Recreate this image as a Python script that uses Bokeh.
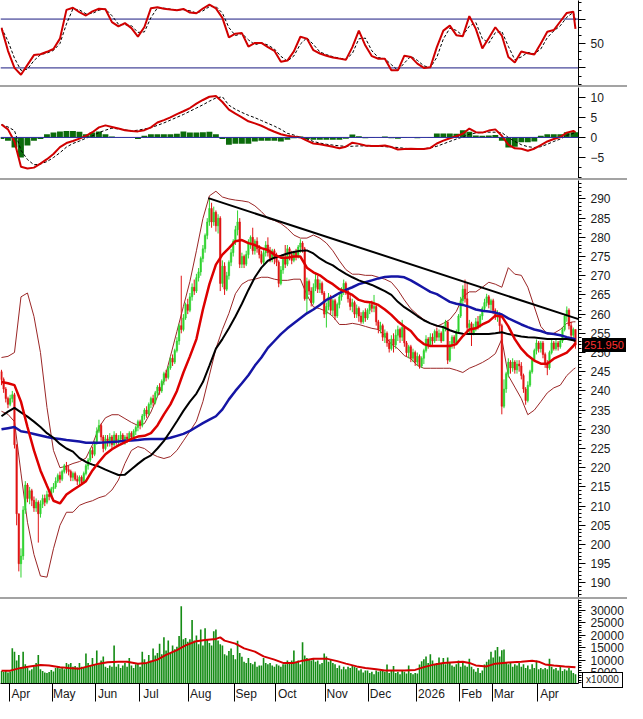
from bokeh.plotting import figure
from bokeh.models import Range1d, FixedTicker, Span, ColumnDataSource, Spacer, Div
from bokeh.layouts import column
from bokeh.embed import file_html
from bokeh.resources import INLINE

# ---------------- data ----------------
first_open = 245.0
close = [
    243.0, 240.5, 238.0, 236.5, 238.0, 239.0, 226.0, 208.0, 195.0, 197.0,
    209.0, 215.5, 212.0, 214.0, 211.5, 209.5, 211.0, 208.0, 210.5, 212.0,
    211.0, 213.0, 212.5, 214.5, 215.0, 216.5, 218.0, 217.0, 219.0, 220.5,
    219.5, 219.0, 217.5, 218.5, 217.0, 216.5, 217.5, 216.0, 218.5, 220.5,
    222.0, 224.5, 223.5, 226.5, 229.5, 231.0, 228.0, 225.0, 227.5, 226.5,
    228.0, 226.0, 228.5, 227.0, 227.5, 228.5, 227.0, 228.0, 227.5, 229.0,
    228.0, 229.5, 230.5, 232.0, 231.0, 233.5, 235.0, 234.0, 236.5, 238.0,
    237.0, 239.5, 241.0, 240.0, 242.5, 244.5, 243.5, 246.0, 248.5, 247.5,
    250.5, 253.0, 257.0, 256.0, 259.0, 262.5, 261.0, 264.5, 267.0, 266.0,
    269.5, 271.0, 274.5, 277.0, 280.5, 284.0, 287.5, 284.0, 286.5, 283.0,
    285.0, 268.0, 272.5, 266.5, 270.0, 273.5, 276.0, 279.0, 282.0, 284.0,
    273.0, 275.0, 273.0, 275.5, 278.5, 280.0, 276.5, 279.0, 277.0, 275.5,
    273.5, 276.0, 278.0, 276.0, 274.5, 276.5, 275.0, 273.5, 268.0, 271.5,
    274.5, 273.0, 277.0, 275.5, 274.0, 276.0, 275.0, 277.5, 278.5, 277.0,
    264.0, 268.5, 266.0, 263.0, 267.0, 269.0, 266.5, 268.0, 265.5, 260.0,
    262.0, 264.5, 261.0, 263.5, 259.5, 262.5, 264.5, 266.5, 268.0, 266.0,
    264.0, 262.0, 263.0, 260.0, 261.5, 259.5, 258.0, 260.5, 259.0, 261.0,
    262.5, 261.5, 262.0, 258.0, 256.0, 257.0, 254.0, 255.0, 252.5, 251.0,
    253.5, 252.0, 254.5, 256.0, 254.0, 256.5, 252.5, 250.0, 251.5, 248.5,
    250.0, 247.5, 249.0, 246.5, 248.5, 250.5, 253.5, 252.0, 254.0, 253.0,
    255.5, 254.0, 255.0, 253.0, 256.5, 258.0, 248.0, 252.0, 254.0, 252.5,
    255.5, 259.5, 263.5, 266.5, 264.0, 256.5, 257.5, 255.0, 256.5, 258.0,
    257.0, 259.5, 261.5, 263.0, 264.5, 262.5, 263.5, 261.0, 259.5, 260.0,
    257.0, 236.0, 240.5, 244.5, 247.5, 246.0, 247.5, 245.5, 247.0, 246.5,
    244.0, 240.5, 237.5, 241.5, 245.0, 248.0, 250.5, 252.5, 251.0, 252.5,
    249.5, 247.0, 246.0, 250.0, 252.5, 251.0, 252.5, 251.5, 253.0, 256.0,
    259.5, 261.0, 257.0, 254.5, 256.0, 251.95,
]
high = [
    245.5, 243.5, 241.0, 238.5, 239.0, 240.0, 239.5, 226.0, 208.0, 199.0,
    210.0, 216.5, 216.0, 215.0, 214.5, 212.5, 212.0, 211.5, 211.5, 213.0,
    213.0, 214.0, 214.0, 215.0, 216.0, 217.5, 218.5, 219.0, 219.5, 221.0,
    221.5, 220.5, 219.5, 219.0, 219.0, 218.0, 218.0, 218.0, 219.0, 221.0,
    222.5, 225.0, 225.5, 227.0, 230.5, 232.5, 231.5, 228.5, 228.5, 228.5,
    229.0, 228.5, 229.5, 229.0, 228.5, 229.5, 229.0, 228.5, 229.0, 229.5,
    229.5, 230.0, 231.0, 232.5, 232.5, 234.0, 235.5, 236.0, 237.0, 238.5,
    239.0, 240.0, 241.5, 242.0, 243.0, 245.0, 245.5, 246.5, 249.0, 249.5,
    251.0, 254.0, 257.5, 270.0, 260.0, 263.0, 264.0, 265.5, 268.0, 269.0,
    270.5, 272.0, 275.0, 278.0, 281.0, 285.0, 290.0, 289.0, 288.0, 287.0,
    286.0, 285.5, 274.0, 273.5, 271.0, 274.0, 277.0, 279.5, 283.0, 287.0,
    285.0, 276.0, 275.5, 276.5, 279.5, 280.5, 282.5, 279.5, 280.0, 278.0,
    276.5, 277.0, 279.0, 280.0, 277.5, 277.0, 277.0, 276.0, 274.0, 272.5,
    275.5, 278.0, 278.0, 277.5, 276.5, 276.5, 277.0, 278.0, 279.5, 279.0,
    277.5, 269.5, 269.0, 267.0, 268.0, 270.5, 270.0, 269.0, 268.5, 266.0,
    263.0, 265.5, 265.0, 264.0, 264.0, 263.0, 265.5, 267.0, 269.0, 268.5,
    266.5, 265.0, 264.0, 263.5, 262.5, 262.0, 260.5, 261.0, 261.5, 261.5,
    263.0, 263.5, 265.0, 262.5, 258.5, 258.0, 257.5, 256.0, 255.5, 253.5,
    254.5, 255.0, 256.0, 257.0, 256.5, 258.5, 257.0, 253.0, 252.0, 252.0,
    251.0, 250.5, 250.0, 249.5, 249.0, 251.0, 254.5, 254.0, 255.0, 255.0,
    256.0, 256.5, 256.0, 255.5, 257.0, 258.5, 258.0, 253.0, 254.5, 254.5,
    256.0, 260.0, 264.5, 267.5, 269.0, 268.0, 258.5, 258.0, 257.5, 259.0,
    259.5, 260.0, 262.0, 264.0, 265.3, 265.0, 264.0, 264.0, 261.5, 261.0,
    260.5, 257.5, 243.0, 245.0, 248.5, 248.0, 248.5, 248.0, 248.0, 248.0,
    247.5, 244.5, 241.0, 242.5, 245.5, 248.5, 251.0, 253.4, 253.0, 253.0,
    253.0, 250.0, 248.0, 250.5, 253.4, 253.0, 253.5, 253.0, 253.5, 256.5,
    260.0, 262.0, 261.5, 258.0, 256.5, 256.0,
]
low = [
    241.5, 239.5, 237.0, 235.5, 236.0, 237.0, 225.0, 205.0, 193.0, 191.4,
    196.0, 208.0, 211.0, 210.5, 210.0, 208.5, 208.5, 200.5, 207.0, 209.5,
    210.0, 210.5, 211.5, 212.0, 213.5, 214.5, 216.0, 216.0, 216.5, 218.5,
    218.5, 218.0, 216.5, 216.5, 216.5, 215.5, 215.5, 215.5, 216.0, 218.0,
    219.5, 221.5, 222.5, 223.0, 226.0, 229.0, 227.0, 224.0, 224.5, 225.5,
    225.5, 225.0, 225.5, 226.0, 226.0, 227.0, 226.5, 226.0, 226.5, 227.0,
    227.0, 227.5, 228.5, 229.5, 230.0, 230.5, 232.5, 233.0, 233.5, 235.5,
    236.0, 236.5, 238.5, 239.0, 239.5, 241.5, 242.5, 243.0, 245.5, 246.5,
    247.0, 250.0, 252.0, 255.0, 255.5, 258.5, 260.0, 260.5, 263.5, 265.0,
    265.5, 268.5, 270.0, 273.5, 276.0, 279.5, 283.0, 282.5, 283.0, 281.5,
    281.0, 266.0, 267.0, 265.0, 266.0, 269.0, 272.5, 275.0, 278.0, 280.5,
    272.0, 272.0, 272.0, 272.5, 274.5, 277.0, 275.5, 275.5, 276.0, 274.5,
    273.0, 273.0, 275.0, 275.0, 273.5, 273.5, 273.0, 272.5, 267.0, 267.5,
    270.5, 272.0, 272.5, 274.0, 273.0, 273.5, 274.0, 274.5, 276.0, 276.0,
    263.5, 260.0, 265.0, 262.0, 262.5, 266.0, 265.5, 265.5, 265.0, 259.0,
    256.5, 261.0, 260.0, 259.5, 258.5, 259.0, 261.5, 263.5, 265.0, 265.0,
    263.0, 261.0, 260.5, 259.0, 259.0, 258.0, 257.5, 257.5, 258.0, 258.5,
    260.0, 260.5, 260.5, 257.0, 255.0, 255.0, 253.0, 252.5, 251.5, 250.0,
    250.5, 250.0, 251.0, 253.0, 252.5, 253.0, 251.5, 249.0, 248.5, 247.5,
    247.5, 246.5, 246.5, 245.8, 246.0, 247.0, 250.0, 251.0, 251.5, 252.0,
    252.5, 253.0, 253.0, 252.5, 253.0, 255.5, 247.0, 247.5, 251.0, 251.0,
    252.0, 255.0, 259.0, 262.5, 263.0, 255.5, 255.0, 251.7, 254.5, 255.5,
    256.0, 256.5, 258.5, 260.5, 262.0, 261.5, 261.0, 260.0, 258.5, 258.0,
    255.0, 233.9, 235.5, 239.5, 243.5, 244.5, 245.0, 244.5, 244.5, 245.0,
    243.0, 239.5, 236.4, 237.0, 241.0, 244.5, 247.5, 249.5, 250.0, 250.0,
    248.5, 246.0, 244.1, 245.5, 249.5, 250.5, 250.5, 250.5, 251.0, 252.5,
    255.5, 258.0, 256.0, 253.5, 253.0, 251.0,
]
volume = [
    5800, 5400, 6000, 5200, 5600, 14900, 13500, 10000, 12200, 7300,
    13500, 8500, 7000, 6000, 6500, 7500, 9000, 12200, 6500, 5800,
    5200, 5000, 5400, 6200, 5600, 7000, 7500, 6800, 7200, 6500,
    9000, 8500, 9000, 7500, 7800, 7200, 9000, 7500, 7000, 12800,
    9000, 8000, 11000, 8500, 14000, 8500, 10000, 11600, 7500, 7000,
    8000, 7500, 16000, 7500, 8500, 7000, 8000, 9000, 7500, 11000,
    8000, 7000, 8500, 9000, 7500, 13500, 10500, 9000, 12200, 10000,
    14800, 12000, 13000, 16700, 12500, 19300, 14000, 18000, 13000, 16000,
    14500, 15500, 19800, 31700, 18500, 19000, 17500, 18500, 26200, 18000,
    20000, 16500, 22400, 16000, 22900, 18500, 17000, 16000, 21700, 22400,
    18000, 16500, 16000, 12500, 12000, 13800, 14800, 12200, 10500, 17900,
    13000, 11500, 9500, 9000, 11000, 9000, 8500, 9500, 7500, 8000,
    8000, 11000, 9000, 8500, 9000, 8000, 7500, 8500, 8000, 7500,
    8500, 8500, 10000, 9000, 10000, 14000, 9500, 10000, 8500, 17300,
    12000, 11000, 10500, 10000, 11000, 9500, 10000, 8500, 9000, 12800,
    11600, 9500, 10500, 9000, 8500, 7000, 8000, 6500, 7500, 6500,
    7500, 7000, 8000, 7500, 7000, 6000, 6500, 5200, 6000, 6000,
    5000, 5500, 4500, 6000, 5500, 5800, 6000, 5500, 8400, 5000,
    6000, 7800, 5000, 5500, 4500, 6000, 5500, 4800, 8000, 5000,
    4500, 5000, 4800, 8400, 9700, 10500, 11600, 9000, 12500, 10000,
    8500, 9000, 11200, 9000, 11000, 8500, 11200, 9000, 8000, 7500,
    8500, 10000, 7500, 9700, 8000, 7500, 10700, 7500, 6500, 5500,
    7000, 5000, 6000, 8400, 9500, 10400, 13500, 11200, 14100, 15400,
    11600, 14100, 14400, 9000, 8500, 9000, 7500, 8500, 8000, 9000,
    7500, 8500, 7000, 8000, 6500, 8500, 7000, 10000, 6500, 7000,
    6500, 7000, 6500, 10700, 7500, 6500, 7000, 6000, 7500, 5800,
    6500, 6000, 7000, 6000, 5000, 4500,
]
vol_ma_days = [0, 4, 9, 13, 18, 22, 27, 31, 36, 40, 45, 49, 54, 58, 63, 67, 72, 76, 81, 85,
               90, 94, 99, 101, 103, 108, 112, 117, 121, 126, 130, 135, 139, 144, 150, 155, 159, 164, 168, 173,
               177, 182, 186, 191, 195, 200, 204, 209, 213, 216, 219, 224, 228, 234, 240, 245, 248, 251, 255, 260, 265]
vol_ma = [5900, 5900, 7000, 7600, 8200, 8000, 7300, 7000, 6700, 7600, 8700, 9300, 9500, 9500, 8700, 9000, 10300, 12200, 14100, 16000,
          17700, 18200, 18600, 19200, 17900, 16700, 14800, 13500, 11600, 10300, 9000, 9000, 9900, 10700, 10700, 9700, 8700, 7600, 7000, 6500,
          6000, 6000, 6000, 6200, 7300, 8400, 9000, 9300, 9500, 9000, 8000, 7600, 8700, 9200, 9500, 9900, 9500, 8400, 8000, 7600, 7300]

# indicator lines, sampled every 3 sessions (last one = final session)
line_days = list(range(0, 265, 3)) + [265]
ma20 = [
    242.3, 242.0, 241.5, 237.2, 230.6, 224.5, 219.3, 215.3, 211.4, 210.7,
    213.0, 214.2, 215.3, 216.5, 219.3, 221.5, 223.5, 224.8, 225.8, 226.6,
    227.5, 228.1, 228.3, 229.0, 231.0, 233.9, 236.5, 240.0, 244.8, 249.0,
    253.5, 261.2, 267.8, 272.9, 275.5, 277.2, 279.0, 279.3, 278.5, 278.0,
    277.2, 276.7, 275.5, 274.7, 274.7, 275.0, 275.0, 272.1, 270.9, 270.1,
    268.8, 267.8, 266.5, 265.8, 265.0, 263.7, 263.2, 263.0, 262.4, 261.2,
    259.8, 258.1, 256.8, 255.6, 253.5, 252.2, 251.7, 251.7, 251.7, 251.7,
    252.2, 254.3, 256.0, 256.3, 257.3, 258.1, 259.6, 259.4, 256.8, 253.5,
    251.0, 249.2, 247.9, 247.1, 247.1, 248.4, 249.2, 250.0, 251.7, 252.5,
]
ma50 = [
    233.4, 234.6, 235.6, 234.4, 233.3, 232.0, 230.6, 229.0, 227.8, 226.2,
    225.0, 224.2, 222.5, 221.5, 220.8, 220.3, 219.5, 218.8, 218.1, 218.2,
    219.6, 221.0, 222.3, 223.2, 225.0, 227.0, 229.5, 232.1, 234.8, 237.2,
    239.3, 242.3, 246.6, 251.0, 253.5, 256.3, 259.4, 262.7, 266.3, 269.6,
    272.1, 273.9, 274.7, 275.2, 275.8, 276.2, 276.5, 276.6, 275.8, 274.5,
    273.5, 272.7, 271.5, 270.5, 269.6, 268.8, 268.2, 267.6, 266.8, 266.0,
    265.0, 263.2, 261.8, 260.7, 259.5, 258.4, 257.6, 257.0, 256.6, 255.8,
    255.2, 254.9, 254.8, 254.8, 254.8, 254.8, 255.0, 255.3, 254.8, 254.5,
    254.2, 254.0, 253.9, 253.7, 253.5, 253.5, 253.5, 253.5, 253.2, 253.0,
]
ma100 = [
    230.0, 230.3, 230.6, 229.5, 229.2, 228.8, 228.4, 228.0, 227.7, 227.5,
    227.2, 227.0, 226.8, 226.5, 226.5, 226.5, 226.6, 226.7, 226.8, 227.0,
    227.1, 227.2, 227.4, 227.5, 227.5, 227.5, 227.8, 228.3, 228.8, 229.6,
    230.6, 231.6, 232.5, 233.4, 235.2, 237.8, 240.0, 242.0, 244.1, 246.6,
    248.7, 251.2, 253.0, 254.8, 256.3, 257.6, 258.9, 260.2, 261.2, 262.4,
    263.7, 264.5, 265.5, 266.3, 267.0, 267.8, 268.3, 268.8, 269.3, 269.7,
    269.8, 269.8, 269.6, 268.8, 267.8, 266.8, 265.8, 265.2, 264.2, 263.2,
    262.7, 262.4, 261.9, 261.2, 260.9, 260.7, 260.4, 259.9, 258.9, 258.1,
    257.3, 256.6, 256.0, 255.6, 255.0, 254.8, 254.5, 254.0, 253.6, 253.4,
]
bb_up = [
    248.7, 249.0, 250.0, 264.5, 265.5, 259.4, 250.0, 235.7, 224.5, 220.0,
    220.4, 221.1, 221.6, 222.5, 226.0, 230.5, 233.0, 233.8, 233.8, 232.8,
    231.8, 231.0, 231.5, 234.5, 238.5, 242.5, 249.0, 255.5, 262.0, 268.5,
    276.5, 284.9, 290.8, 292.0, 290.5, 290.0, 289.7, 289.5, 289.2, 288.2,
    286.7, 284.9, 284.4, 283.6, 282.3, 280.6, 279.8, 279.8, 280.6, 279.8,
    278.5, 276.5, 273.9, 271.6, 270.4, 270.4, 270.1, 270.1, 269.6, 269.1,
    268.3, 266.3, 263.7, 261.4, 259.9, 258.6, 257.6, 256.8, 257.6, 258.6,
    260.7, 264.5, 265.8, 265.8, 267.0, 268.3, 267.8, 267.0, 272.1, 270.4,
    270.1, 267.0, 261.9, 256.8, 254.8, 255.0, 256.0, 257.6, 258.0, 258.0,
]
bb_lo = [
    234.7, 233.9, 232.0, 218.6, 205.8, 197.4, 191.8, 191.5, 198.9, 205.0,
    208.4, 208.4, 210.2, 210.9, 211.4, 212.2, 212.7, 214.2, 216.8, 221.1,
    224.5, 225.5, 225.0, 223.7, 222.9, 222.4, 222.9, 224.5, 227.0, 229.5,
    232.1, 237.2, 244.1, 251.0, 256.0, 260.2, 265.3, 267.8, 268.8, 269.1,
    269.6, 269.6, 269.1, 268.8, 268.8, 269.1, 269.1, 265.0, 261.9, 261.4,
    260.7, 259.4, 257.3, 257.3, 257.6, 257.3, 256.8, 256.3, 256.0, 254.3,
    252.2, 251.0, 249.2, 248.4, 246.6, 245.9, 245.9, 245.9, 245.9, 245.9,
    245.4, 244.8, 245.9, 246.6, 247.4, 248.4, 249.7, 253.5, 244.0, 241.0,
    238.0, 233.8, 235.0, 237.2, 239.5, 240.8, 241.5, 244.0, 245.6, 246.0,
]
rsi = [
    62.8, 44.0, 30.0, 24.4, 32.5, 40.5, 41.2, 43.2, 45.5, 54.0,
    77.5, 79.3, 75.6, 72.9, 76.3, 78.4, 78.0, 67.5, 64.0, 66.7,
    62.6, 55.6, 63.5, 78.9, 79.6, 78.5, 77.8, 77.2, 78.3, 75.3,
    74.8, 78.6, 81.8, 78.8, 71.0, 55.0, 58.0, 58.5, 47.5, 50.5,
    50.5, 47.0, 44.0, 35.0, 36.0, 43.6, 55.5, 54.0, 44.5, 41.8,
    40.0, 38.5, 37.6, 36.6, 47.0, 60.5, 48.3, 39.6, 37.5, 37.5,
    28.0, 28.0, 40.0, 39.0, 33.5, 30.0, 30.5, 47.0, 60.5, 64.6,
    56.8, 56.0, 72.4, 62.0, 46.0, 54.5, 63.3, 56.5, 39.0, 34.5,
    43.5, 42.0, 41.0, 50.0, 59.6, 61.0, 68.0, 75.0, 76.0, 62.0,
]
rsi_sig = [
    62.8, 52.0, 38.0, 28.0, 29.0, 36.0, 40.8, 42.2, 44.3, 50.0,
    66.0, 78.4, 77.5, 74.3, 74.6, 77.3, 78.2, 72.8, 65.8, 65.3,
    64.6, 59.1, 59.5, 71.2, 79.2, 79.0, 78.1, 77.5, 77.7, 76.8,
    75.0, 76.7, 80.2, 80.3, 74.9, 63.0, 56.5, 58.2, 53.0, 49.0,
    50.5, 48.7, 45.5, 39.5, 35.5, 39.8, 49.5, 54.7, 49.2, 43.1,
    40.9, 39.2, 38.0, 37.1, 41.8, 53.8, 54.4, 44.0, 38.5, 37.5,
    32.7, 28.0, 34.0, 39.5, 36.2, 31.7, 30.2, 38.7, 53.7, 62.5,
    60.7, 56.4, 64.2, 67.2, 54.0, 50.3, 58.9, 59.9, 47.7, 36.7,
    39.0, 42.7, 41.5, 45.5, 54.8, 60.3, 64.5, 71.5, 75.5, 69.0,
]
macd = [
    3.2, 2.0, -1.0, -7.3, -7.7, -7.5, -6.5, -5.4, -4.1, -2.4,
    -1.4, -0.9, -0.3, 0.4, 1.3, 2.5, 3.0, 2.6, 2.2, 1.8,
    1.6, 1.5, 1.8, 2.5, 3.7, 4.3, 5.0, 5.8, 6.5, 7.3,
    8.4, 9.3, 10.1, 10.3, 8.8, 6.9, 5.9, 5.0, 4.0, 3.5,
    2.9, 2.1, 1.4, 0.8, 0.4, 0.2, 0.0, -0.8, -1.5, -1.7,
    -2.0, -2.3, -2.7, -2.3, -1.3, -1.6, -2.0, -2.1, -2.1, -2.0,
    -2.4, -3.0, -2.9, -2.8, -2.9, -2.9, -2.6, -1.5, -0.8, -0.2,
    0.3, 0.9, 2.2, 1.3, 1.2, 1.7, 2.0, 0.4, -1.8, -2.7,
    -2.8, -3.3, -2.8, -1.9, -1.0, -0.4, 0.1, 1.2, 1.6, 1.3,
]
macd_sig = [
    3.2, 2.6, 1.7, -3.2, -5.5, -6.8, -6.6, -6.0, -5.0, -3.8,
    -2.4, -1.5, -0.9, -0.2, 0.4, 1.2, 1.8, 2.3, 2.1, 1.9,
    1.6, 1.8, 2.1, 2.4, 3.0, 3.6, 4.3, 5.0, 5.7, 6.5,
    7.3, 8.1, 9.0, 9.8, 10.1, 8.0, 7.0, 6.2, 5.5, 4.9,
    4.2, 3.5, 2.8, 2.0, 1.0, 0.6, 0.0, -0.4, -1.0, -1.4,
    -1.7, -1.9, -2.1, -2.2, -2.2, -2.1, -2.1, -2.2, -2.2, -2.3,
    -2.4, -2.5, -2.7, -2.8, -2.8, -2.8, -2.6, -2.2, -1.6, -1.0,
    -0.4, 0.1, 0.8, 1.1, 1.2, 1.3, 1.3, 1.2, 0.0, -1.0,
    -1.8, -2.3, -2.5, -2.3, -1.7, -1.0, -0.4, 0.5, 1.0, 1.2,
]
macd_hist = [
    -0.4, -0.8, -2.5, -5.0, -2.0, -0.8, -0.4, 0.8, 1.2, 1.5,
    1.6, 1.6, 1.4, 0.8, 1.2, 1.5, 0.8, 0.2, -0.1, -0.1,
    -0.1, -0.4, 0.4, 0.8, 0.8, 0.8, 0.8, 0.9, 1.5, 1.2,
    1.2, 1.3, 1.4, 0.8, -0.4, -1.8, -1.6, -1.6, -1.6, -1.0,
    -0.8, -0.8, -0.8, -1.0, -0.6, -0.2, 0.2, -0.4, -0.6, -0.6,
    -0.6, -0.6, -0.6, -0.3, 0.7, 0.3, -0.2, 0.1, -0.1, 0.2,
    -0.2, -0.3, 0.1, -0.1, -0.2, -0.1, 0.1, 1.0, 1.0, 1.0,
    0.9, 1.8, 1.4, 0.5, 0.4, 0.5, 0.6, -0.8, -2.5, -2.3,
    -1.2, -1.2, -1.0, 0.4, 0.8, 0.8, 0.8, 1.3, 1.3, 1.3,
]
trend_days = [95.5, 266.4]
trend_vals = [290.2, 258.7]
rsi_levels = [30, 70]
month_first_bar = [4, 24, 44, 64, 87, 108, 127, 150, 170, 192, 212, 227, 248]
month_labels = ["Apr", "May", "Jun", "Jul", "Aug", "Sep", "Oct", "Nov", "Dec", "2026", "Feb", "Mar", "Apr"]
price_ticks = list(range(190, 295, 5))
macd_ticks = [-5, 0, 5, 10]
vol_ticks = [5000, 10000, 15000, 20000, 25000, 30000]
vol_unit_text = "x10000"

# ---------------- styling ----------------
W = 627
RIGHT = 49
FONT = "Liberation Sans"
UP, DOWN = "#2fd32f", "#e01414"
H_RSI, H_MACD, H_PRICE, H_VOL, X_AXIS_H = 85, 91, 417, 104, 18

xr = Range1d(-0.45, 266.4)
price_range = Range1d(186.2, 294.8)


def make_fig(h, yr, bottom=0, xaxis=False):
    f = figure(width=W, height=h, x_range=xr, y_range=yr, output_backend="svg",
               toolbar_location=None, x_axis_location=("below" if xaxis else None),
               y_axis_location="right", min_border_left=0, min_border_right=RIGHT,
               min_border_top=0, min_border_bottom=bottom, outline_line_color=None,
               background_fill_color="white", border_fill_color="white")
    f.grid.visible = False
    ax = f.yaxis[0]
    ax.axis_line_color = "black"
    ax.major_tick_in = 0
    ax.major_tick_out = 7
    ax.minor_tick_in = 0
    ax.minor_tick_out = 3
    ax.major_tick_line_color = "black"
    ax.minor_tick_line_color = "black"
    ax.major_label_text_font = FONT
    ax.major_label_text_font_size = "12px"
    ax.major_label_text_color = "#1a1a1a"
    ax.major_label_standoff = 5
    return f


# RSI panel
f_rsi = make_fig(H_RSI, Range1d(15.6, 85.2))
f_rsi.yaxis[0].ticker = FixedTicker(ticks=[30, 50, 70],
                                    minor_ticks=[16.67, 23.33, 36.67, 43.33, 56.67, 63.33, 76.67, 83.33])
f_rsi.yaxis[0].major_label_overrides = {30: "", 70: ""}
for lv in rsi_levels:
    f_rsi.add_layout(Span(location=lv, dimension="width", line_color="#1a1a80", line_width=1, level="underlay"))
f_rsi.line(line_days, rsi_sig, line_color="black", line_width=1, line_dash="3 2")
f_rsi.line(line_days, rsi, line_color="#d00000", line_width=2)

# MACD panel
f_macd = make_fig(H_MACD, Range1d(-10.2, 12.4))
f_macd.yaxis[0].ticker = FixedTicker(ticks=macd_ticks,
                                     minor_ticks=[-10, -7.5, -5, -2.5, 0, 2.5, 5, 7.5, 10, 12.5])
f_macd.vbar(x=line_days, top=macd_hist, bottom=0, width=2.7, fill_color="#0b6b0b", line_color=None)
f_macd.add_layout(Span(location=0, dimension="width", line_color="#2a2aa0", line_width=1))
f_macd.line(line_days, macd_sig, line_color="black", line_width=1, line_dash="3 2")
f_macd.line(line_days, macd, line_color="#d00000", line_width=2)

# Price panel
f_price = make_fig(H_PRICE, price_range)
f_price.yaxis[0].ticker = FixedTicker(ticks=price_ticks, minor_ticks=list(range(187, 295)))
days = list(range(len(close)))
opens = [first_open] + close[:-1]
src = ColumnDataSource(dict(
    day=days, h=high, l=low,
    top=[max(o, c) for o, c in zip(opens, close)],
    bot=[min(o, c) for o, c in zip(opens, close)],
    col=[UP if c >= o else DOWN for o, c in zip(opens, close)],
))
f_price.line(line_days, bb_up, line_color="#9a2626", line_width=1)
f_price.line(line_days, bb_lo, line_color="#9a2626", line_width=1)
f_price.segment("day", "l", "day", "h", line_color="col", line_width=1, source=src)
f_price.vbar("day", 0.7, "top", "bot", fill_color="col", line_color="col", line_width=0.5, source=src)
f_price.line(line_days, ma100, line_color="#1515a5", line_width=2.5)
f_price.line(line_days, ma50, line_color="black", line_width=2)
f_price.line(line_days, ma20, line_color="#dd0000", line_width=2.5)
f_price.line(trend_days, trend_vals, line_color="black", line_width=2)

# last-price tag, overlaid on the price axis area (HTML, positioned from the y scale)
TAG_H = 14
tag_center = H_PRICE * (price_range.end - close[-1]) / (price_range.end - price_range.start)
tag_top = int(round(tag_center - TAG_H / 2))
tag = Div(text=f"{close[-1]:.3f}", width=44, height=TAG_H,
          margin=(-(H_PRICE - tag_top), 0, H_PRICE - tag_top - TAG_H, W - RIGHT + 4),
          styles={"background-color": "black", "color": "#ff3030", "font-family": FONT,
                  "font-size": "11px", "line-height": f"{TAG_H}px", "text-align": "center",
                  "position": "relative", "z-index": "10", "overflow": "hidden"})

# Volume panel
f_vol = make_fig(H_VOL, Range1d(760, 34350), bottom=X_AXIS_H, xaxis=True)
f_vol.yaxis[0].ticker = FixedTicker(ticks=vol_ticks, minor_ticks=list(range(1000, 34001, 1000)))
f_vol.vbar(x=days, top=volume, bottom=0, width=0.75, fill_color="#148c14", line_color=None)
f_vol.line(vol_ma_days, vol_ma, line_color="#d40000", line_width=2)

UNIT_H = 16
unit_top = H_VOL - X_AXIS_H - 13
unit = Div(text=vol_unit_text, width=41, height=UNIT_H,
           margin=(-(H_VOL - unit_top), 0, H_VOL - unit_top - UNIT_H, W - RIGHT + 4),
           styles={"background-color": "white", "border": "1px solid black", "box-sizing": "border-box",
                   "color": "#222222", "font-family": FONT, "font-size": "10px",
                   "line-height": f"{UNIT_H - 2}px", "text-align": "center",
                   "position": "relative", "z-index": "10", "overflow": "hidden"})

px_per_bar = (W - RIGHT) / (xr.end - xr.start)
month_lines = [b - 0.5 for b in month_first_bar]
label_pos = [round(m + (2 + 3.3 * len(t)) / px_per_bar, 3) for m, t in zip(month_lines, month_labels)]
xa = f_vol.xaxis[0]
xa.ticker = FixedTicker(ticks=label_pos, minor_ticks=month_lines)
xa.major_label_overrides = {p: t for p, t in zip(label_pos, month_labels)}
xa.axis_line_color = "black"
xa.major_tick_line_color = None
xa.major_tick_in = 0
xa.major_tick_out = 0
xa.minor_tick_in = 0
xa.minor_tick_out = X_AXIS_H
xa.minor_tick_line_color = "black"
xa.major_label_standoff = 3 - X_AXIS_H
xa.major_label_text_font = FONT
xa.major_label_text_font_size = "12px"
xa.major_label_text_color = "#1a1a1a"


def sep():
    return Spacer(width=W, height=2, styles={"background-color": "#a3a3a3"})


layout = column(f_rsi, sep(), f_macd, sep(), f_price, tag, sep(), f_vol, unit, spacing=0)

open("out.html", "w").write(file_html(layout, INLINE))
